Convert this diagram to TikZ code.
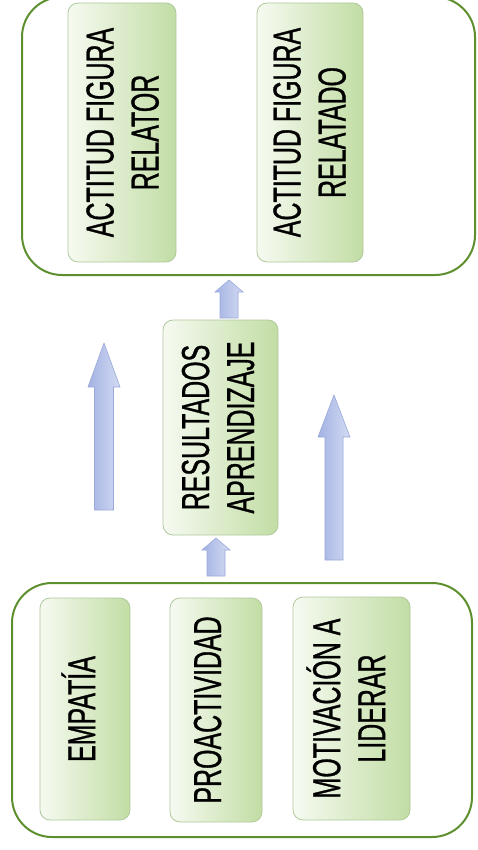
\documentclass[tikz,border=0pt]{standalone}
\usepackage{fontspec}
\setmainfont{Liberation Sans}[FakeStretch=0.64,FakeBold=0.8]
\usepackage{graphicx}
\definecolor{contgreen}{HTML}{5E8F2E}
\definecolor{boxedge}{HTML}{AFC99C}
\definecolor{boxlight}{HTML}{F6FAF1}
\definecolor{boxdark}{HTML}{C2DDA4}
\definecolor{arrA}{HTML}{A3B2E2}
\definecolor{arrB}{HTML}{D3DBF3}
\definecolor{arrEdge}{HTML}{9AA9DA}
\newcommand\vtext[2][0pt]{\rotatebox{90}{\raisebox{-#1}[\height][\depth]{\begin{tabular}{@{}c@{}}#2\end{tabular}}}}
\newcommand\blockarr[6]{\path[blockarrow] (#1-#5,#4) -- (#1-#5,#3) -- (#1-#6,#3) -- (#1,#2) -- (#1+#6,#3) -- (#1+#5,#3) -- (#1+#5,#4) -- cycle;}
\begin{document}
\begin{tikzpicture}[x=1pt,y=-1pt,
  container/.style={draw=contgreen, line width=2pt, rounded corners=40pt, inner sep=0pt},
  greenbox/.style={draw=boxedge, line width=0.8pt, rounded corners=10pt, left color=boxlight, right color=boxdark, inner sep=0pt, font=\fontsize{39}{45}\selectfont},
  blockarrow/.style={left color=arrA, right color=arrB, draw=arrEdge, line width=0.6pt, line join=miter}]
\useasboundingbox (0,0) rectangle (477,850);
% containers
\node[container, minimum width=453pt, minimum height=278pt] (topbox) at (248.5,136) {};
\node[container, minimum width=460pt, minimum height=254pt] (botbox) at (242,710) {};
% top boxes
\node[greenbox, minimum width=108pt, minimum height=259pt] (relator) at (122,132.5) {\vtext[5pt]{ACTITUD FIGURA\\RELATOR}};
\node[greenbox, minimum width=106pt, minimum height=259pt] (relatado) at (310,132.5) {\vtext[4pt]{ACTITUD FIGURA\\RELATADO}};
% middle box
\node[greenbox, minimum width=115pt, minimum height=215pt] (result) at (220.5,427.5) {\vtext[2pt]{RESULTADOS\\APRENDIZAJE}};
% bottom boxes
\node[greenbox, minimum width=90pt, minimum height=222pt] (empatia) at (85,709) {\vtext{EMPATÍA}};
\node[greenbox, minimum width=92pt, minimum height=224pt] (proact) at (216,710) {\vtext[-4pt]{PROACTIVIDAD}};
\node[greenbox, minimum width=117pt, minimum height=223pt] (motiv) at (351.5,708.5) {\vtext[1pt]{MOTIVACIÓN A\\LIDERAR}};
% arrows
\blockarr{229}{280}{292}{318}{9}{14}
\blockarr{216}{538}{550}{576}{9}{14}
\blockarr{104}{343}{387}{510}{9.5}{16}
\blockarr{334}{395}{437}{560}{9}{16}
\end{tikzpicture}
\end{document}
